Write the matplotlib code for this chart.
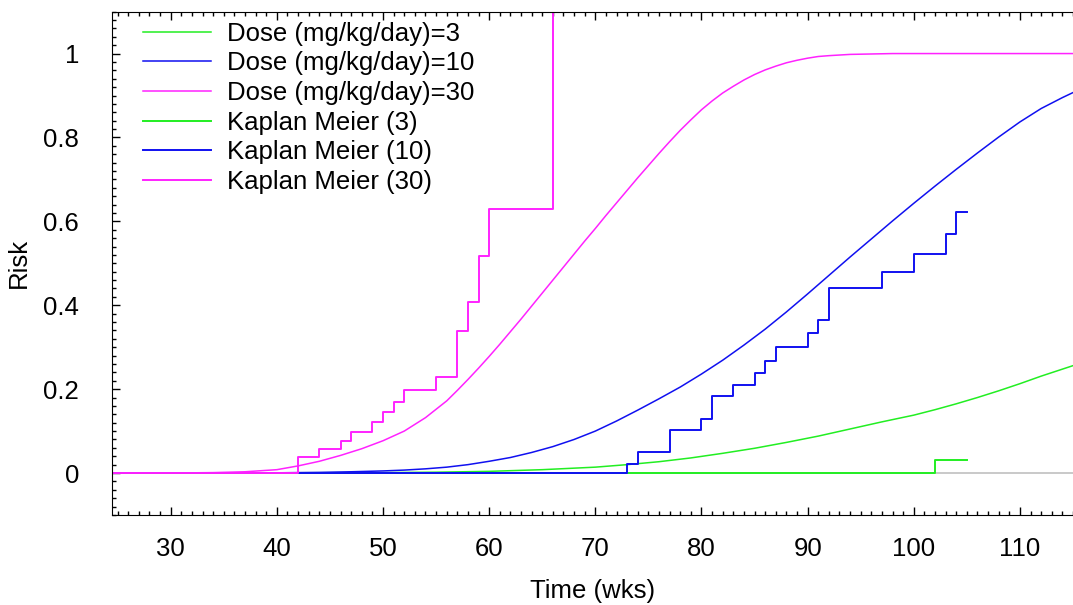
import matplotlib
matplotlib.use("Agg")
import matplotlib.pyplot as plt
from matplotlib.ticker import MultipleLocator

plt.rcParams['font.family'] = ['Liberation Sans', 'DejaVu Sans']

# fitted dose-response curves (weeks, risk)
dose3_t = [25, 50, 55, 60, 65, 70, 73, 76, 79, 82, 85, 88, 91, 94, 97, 100, 102, 104,
           106, 108, 110, 112, 115]
dose3_r = [0, 0.001, 0.002, 0.004, 0.008, 0.014, 0.020, 0.027, 0.036, 0.047, 0.059, 0.073,
           0.088, 0.105, 0.122, 0.138, 0.151, 0.165, 0.180, 0.196, 0.213, 0.231, 0.256]

dose10_t = [25, 40, 44, 47, 50, 52, 54, 56, 58, 60, 62, 64, 66, 68, 70, 72, 74, 76, 78, 80,
            82, 84, 86, 88, 90, 92, 94, 96, 98, 100, 102, 104, 106, 108, 110, 112, 114, 115]
dose10_r = [0, 0.0005, 0.0015, 0.003, 0.005, 0.007, 0.010, 0.014, 0.020, 0.028, 0.037,
            0.049, 0.063, 0.080, 0.100, 0.124, 0.150, 0.177, 0.205, 0.236, 0.269, 0.305,
            0.343, 0.384, 0.427, 0.471, 0.515, 0.558, 0.601, 0.643, 0.684, 0.724, 0.763,
            0.801, 0.837, 0.869, 0.895, 0.907]

dose30_t = [25, 30, 34, 37, 40, 42, 44, 46, 48, 50, 52, 54, 56, 57, 58, 59, 60, 61, 62, 63,
            64, 65, 66, 67, 68, 69, 70, 71, 72, 73, 74, 75, 76, 77, 78, 79, 80, 81, 82, 83,
            84, 85, 86, 87, 88, 89, 90, 91, 92, 94, 96, 98, 115]
dose30_r = [0, 0, 0.001, 0.003, 0.008, 0.017, 0.028, 0.042, 0.058, 0.077, 0.100, 0.132,
            0.172, 0.197, 0.223, 0.250, 0.278, 0.307, 0.337, 0.367, 0.398, 0.429, 0.460,
            0.491, 0.522, 0.553, 0.583, 0.614, 0.644, 0.674, 0.704, 0.733, 0.762, 0.790,
            0.817, 0.842, 0.866, 0.887, 0.906, 0.922, 0.937, 0.950, 0.961, 0.970, 0.978,
            0.984, 0.989, 0.993, 0.995, 0.998, 0.999, 1.0, 1.0]

# Kaplan Meier step estimates
km3_t = [0, 102, 105]
km3_r = [0, 0.030, 0.030]

km10_t = [0, 73, 74, 77, 80, 81, 83, 85, 86, 87, 90, 91, 92, 97, 100, 103, 104, 105]
km10_r = [0, 0.022, 0.049, 0.102, 0.128, 0.183, 0.211, 0.239, 0.268, 0.301, 0.333, 0.366,
          0.440, 0.479, 0.521, 0.569, 0.622, 0.622]

km30_t = [0, 42, 44, 46, 47, 49, 50, 51, 52, 55, 57, 58, 59, 60, 66]
km30_r = [0, 0.038, 0.058, 0.076, 0.097, 0.121, 0.145, 0.170, 0.197, 0.229, 0.339, 0.407,
          0.518, 0.630, 1.2]

green = '#22ee22'
blue = '#1010f0'
magenta = '#ff22ff'

fig = plt.figure(figsize=(10.73, 6.05), dpi=100)
ax = fig.add_axes([0.1047, 0.1488, 0.8953, 0.832])

ax.axhline(0, color='#c0c0c0', lw=1.2, zorder=1)

ax.plot(dose3_t, dose3_r, color=green, lw=1.1, label='Dose (mg/kg/day)=3')
ax.plot(dose10_t, dose10_r, color=blue, lw=1.1, label='Dose (mg/kg/day)=10')
ax.plot(dose30_t, dose30_r, color=magenta, lw=1.1, label='Dose (mg/kg/day)=30')
ax.step(km3_t, km3_r, where='post', color=green, lw=1.4, label='Kaplan Meier (3)')
ax.step(km10_t, km10_r, where='post', color=blue, lw=1.4, label='Kaplan Meier (10)')
ax.step(km30_t, km30_r, where='post', color=magenta, lw=1.4, label='Kaplan Meier (30)')

ax.set_xlim(24.5, 115)
ax.set_ylim(-0.1, 1.1)
ax.xaxis.set_major_locator(MultipleLocator(10))
ax.xaxis.set_minor_locator(MultipleLocator(1))
ax.yaxis.set_minor_locator(MultipleLocator(0.02))
ax.set_yticks([0, 0.2, 0.4, 0.6, 0.8, 1.0])
ax.set_yticklabels(['0', '0.2', '0.4', '0.6', '0.8', '1'])
ax.tick_params(which='both', direction='in', top=True, right=False, labelsize=18.5)
ax.tick_params(which='major', length=6, width=1)
ax.tick_params(which='minor', length=3, width=1)
ax.tick_params(axis='y', which='major', pad=24)
ax.tick_params(axis='x', which='major', pad=16)
ax.spines['right'].set_visible(False)

ax.set_xlabel('Time (wks)', fontsize=18.5, labelpad=13)
ax.set_ylabel('Risk', fontsize=18.5, labelpad=9)

ax.legend(loc='upper left', bbox_to_anchor=(0.032, 0.98), frameon=False, fontsize=18.5,
          handlelength=2.65, handletextpad=0.6, labelspacing=0.22, borderpad=0, borderaxespad=0)

fig.savefig('out.png', dpi=100)
